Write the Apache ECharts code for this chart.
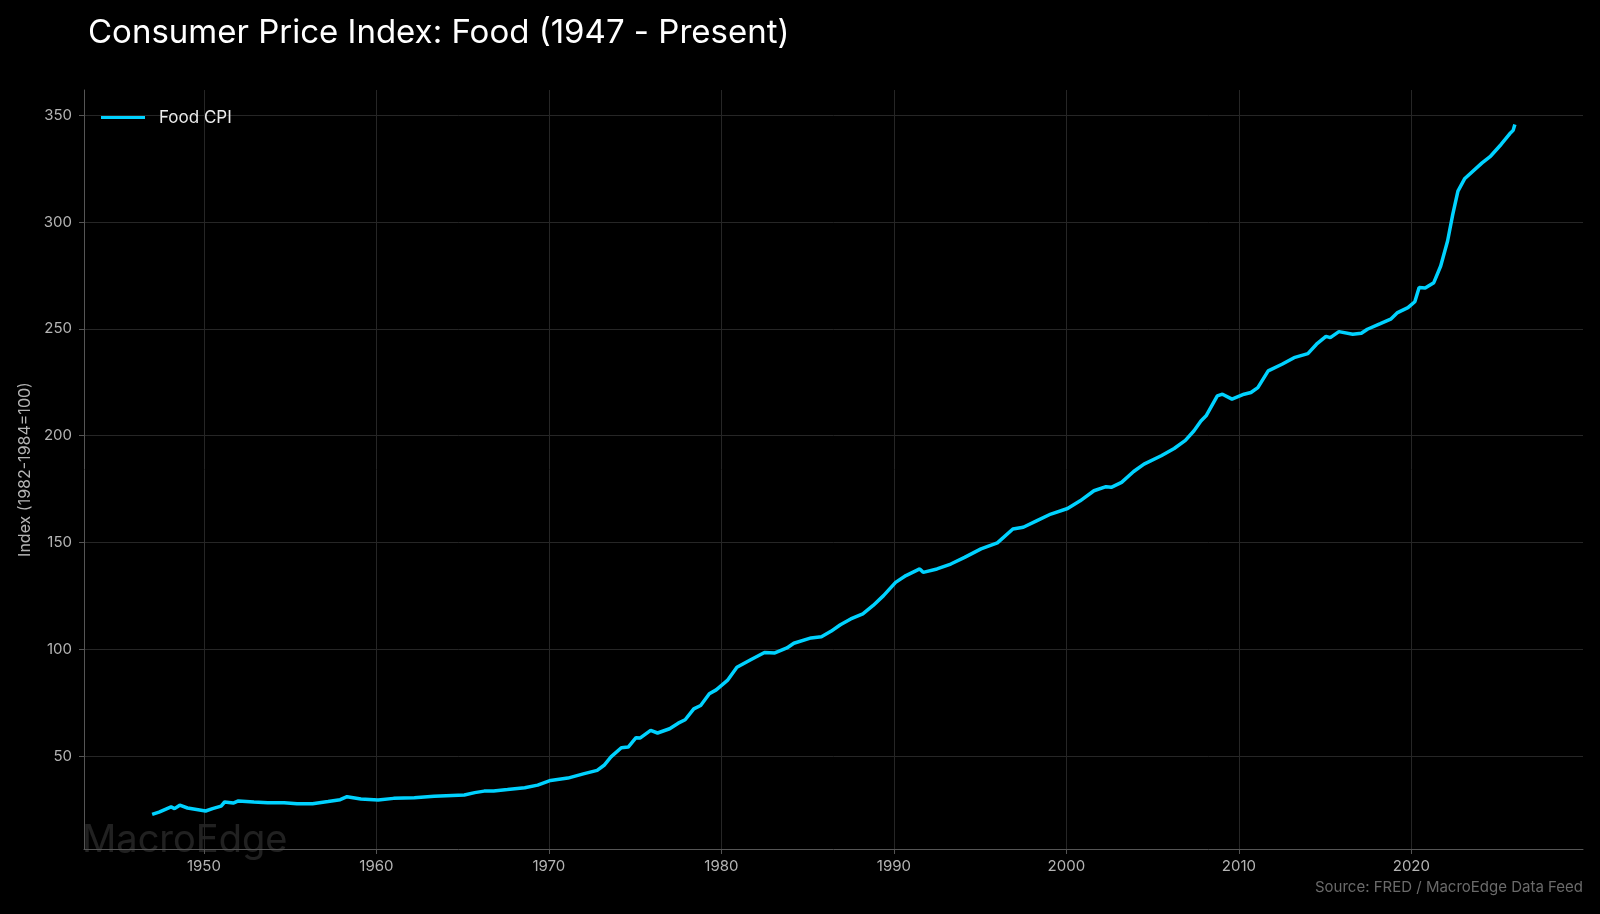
<!DOCTYPE html>
<html>
<head>
<meta charset="utf-8">
<script src="https://cdn.jsdelivr.net/npm/echarts@6/dist/echarts.min.js"></script>
<style>
html,body{margin:0;padding:0;background:#000;}
#chart{width:1600px;height:914px;}
</style>
</head>
<body>
<div id="chart"></div>
<script>
// Decimal years (x) and Food CPI values (1982-1984=100)
const years = [
  1947.0,1947.4,1948.1,1948.3,1948.6,1949.05,1950.1,1950.5,1951.0,1951.2,1951.7,1952.0,1952.9,1953.7,1954.65,1955.4,1956.3,1957.2,1957.9,1958.3,1959.1,1960.1,1961.0,1962.2,1963.35,1965.1,1965.7,1966.25,1966.8,1967.6,1968.6,1969.35,1970.1,
  1971.1,1972.05,1972.8,1973.2,1973.6,1974.2,1974.6,1975.05,1975.3,1975.9,1976.3,1977.0,1977.5,1977.9,1978.4,1978.8,1979.3,1979.7,1980.35,1980.9,1981.7,1982.5,1983.1,1983.8,1984.2,1985.2,1985.8,1986.35,1986.9,1987.5,1988.2,1988.8,
  1989.4,1990.1,1990.7,1991.5,1991.7,1992.5,1993.3,1994.1,1995.05,1996.0,1996.9,1997.5,1998.3,1999.1,2000.07,2000.8,2001.6,2002.3,2002.6,2003.2,2003.9,2004.5,2005.5,2006.25,2006.9,2007.4,2007.8,
  2008.1,2008.75,2009.05,2009.6,2010.3,2010.7,2011.1,2011.7,2012.5,2013.2,2014.0,2014.5,2015.05,2015.3,2015.8,2016.6,2017.1,2017.45,2018.2,2018.8,2019.2,2019.8,2020.2,2020.45,2020.8,2021.3,2021.7,
  2022.1,2022.4,2022.7,2023.1,2024.1,2024.6,2025.2,2025.7,2025.9,2026.0
];
const foodCPI = [
  22.7,23.8,26.2,25.4,27.0,25.7,24.3,25.4,26.6,28.5,28.0,29.0,28.5,28.2,28.2,27.7,27.7,28.7,29.6,31.0,29.9,29.4,30.2,30.5,31.2,31.8,32.9,33.6,33.6,34.3,35.2,36.4,38.6,
  39.7,41.8,43.3,45.7,49.6,53.9,54.2,58.6,58.5,62.0,60.8,62.8,65.4,67.0,72.1,73.7,79.2,81.0,85.4,91.6,95.1,98.5,98.3,100.6,102.8,105.3,105.9,108.4,111.5,114.2,116.6,120.5,
  125.1,131.3,134.5,137.6,136.0,137.6,139.9,143.0,147.0,149.8,156.3,157.1,160.2,163.3,165.9,169.5,174.2,176.1,175.8,178.1,183.2,186.7,190.6,194.0,197.8,202.3,206.9,
  209.3,218.6,219.4,217.1,219.4,220.2,222.5,230.3,233.4,236.5,238.4,242.8,246.5,245.9,248.7,247.5,247.9,249.8,252.4,254.5,257.6,259.9,262.7,269.3,269.1,271.6,279.4,
  291.1,303.6,314.5,320.4,327.7,330.9,336.3,341.3,342.9,345.7
];
const xTicks = [1950,1960,1970,1980,1990,2000,2010,2020];
const yTicks = [50,100,150,200,250,300,350];

const seriesData = years.map((y, i) => [y, foodCPI[i]]);
const FONT = 'Inter, "Noto Sans", sans-serif';

const chart = echarts.init(document.getElementById('chart'), null, {renderer: 'canvas'});
chart.setOption({
  backgroundColor: '#000',
  animation: false,
  title: {
    text: 'Consumer Price Index: Food (1947 - Present)',
    left: 83, top: 12,
    textStyle: {color: '#ffffff', fontSize: 33, fontWeight: 'normal', fontFamily: FONT}
  },
  legend: {
    left: 96, top: 104,
    itemWidth: 44, itemHeight: 18,
    icon: 'path://M0,7.5 L44,7.5 L44,10.5 L0,10.5 Z',
    textStyle: {color: '#ececec', fontSize: 17, fontFamily: FONT, padding: [0,0,0,9]},
    data: ['Food CPI']
  },
  grid: {left: 84, right: 17, top: 90, bottom: 65, containLabel: false},
  xAxis: {
    type: 'value',
    min: 1943.05, max: 2029.95,
    axisLine: {show: true, lineStyle: {color: '#555', width: 1}},
    axisTick: {show: true, length: 5, lineStyle: {color: '#555'}, customValues: xTicks},
    axisLabel: {color: '#b4b4b4', fontSize: 15, fontFamily: FONT, margin: 10, customValues: xTicks,
      formatter: v => String(Math.round(v))},
    splitLine: {show: true, lineStyle: {color: '#262626', width: 1}}
  },
  yAxis: {
    type: 'value',
    min: 6.5, max: 361.8,
    name: 'Index (1982-1984=100)',
    nameLocation: 'middle', nameRotate: 90, nameGap: 49,
    nameTextStyle: {color: '#b4b4b4', fontSize: 16, fontFamily: FONT},
    axisLine: {show: true, lineStyle: {color: '#555', width: 1}},
    axisTick: {show: true, length: 5, lineStyle: {color: '#555'}, customValues: yTicks},
    axisLabel: {color: '#b4b4b4', fontSize: 15, fontFamily: FONT, margin: 12, customValues: yTicks},
    splitLine: {show: true, lineStyle: {color: '#262626', width: 1}}
  },
  graphic: [
    {type: 'text', left: 82, top: 822, z: 0, silent: true,
      style: {text: 'MacroEdge', fill: 'rgba(255,255,255,0.13)', fontSize: 38, fontFamily: FONT}},
    {type: 'text', right: 17, top: 880, z: 10,
      style: {text: 'Source: FRED / MacroEdge Data Feed', fill: '#6a6a6a', fontSize: 15, fontFamily: FONT}}
  ],
  series: [{
    name: 'Food CPI',
    type: 'line',
    data: seriesData,
    symbol: 'none',
    smooth: false,
    lineStyle: {color: '#00d2ff', width: 3.5},
    itemStyle: {color: '#00d2ff'}
  }]
});
</script>
</body>
</html>
